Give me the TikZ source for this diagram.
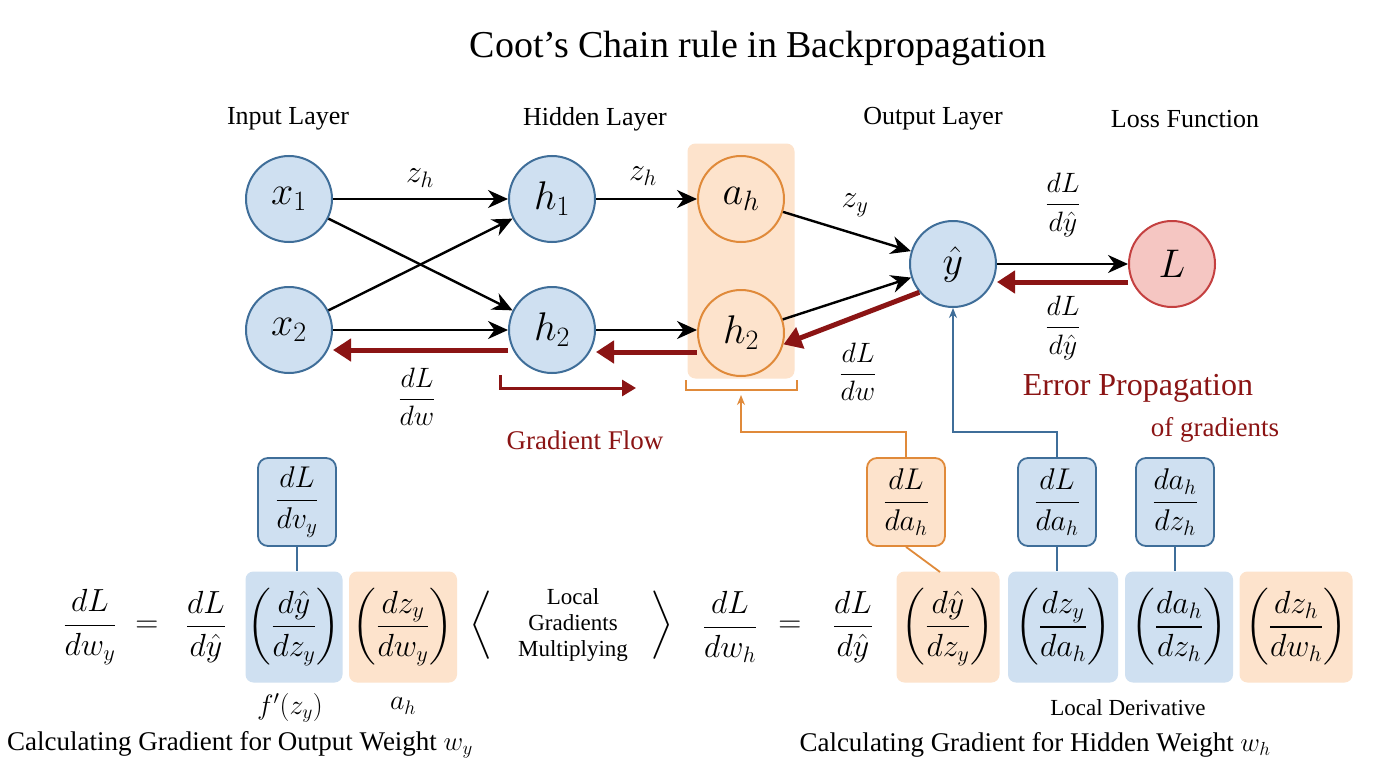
\RequirePackage{fix-cm}
\documentclass[tikz,border=0pt]{standalone}
\usepackage{amsmath,amssymb,bm}
\usepackage{fontspec}
\setmainfont{Liberation Serif}
\usetikzlibrary{arrows.meta,positioning}
\definecolor{bfill}{HTML}{CFE0F1}
\definecolor{bdraw}{HTML}{3F6E99}
\definecolor{ofill}{HTML}{FDE3CC}
\definecolor{odraw}{HTML}{E08A3A}
\definecolor{rfill}{HTML}{F5C6C2}
\definecolor{rdraw}{HTML}{C44040}
\definecolor{dred}{HTML}{8B1414}
\newcommand{\fs}[1]{\fontsize{#1}{#1}\selectfont}
\begin{document}
\begin{tikzpicture}[x=1pt,y=-1pt,
  neu/.style={circle,draw=bdraw,fill=bfill,line width=2pt,minimum size=86pt,inner sep=0pt,font=\fs{40}},
  oneu/.style={neu,draw=odraw,fill=ofill},
  rneu/.style={neu,draw=rdraw,fill=rfill},
  lab/.style={font=\fs{26}},
  fw/.style={line width=2.4pt,-{Stealth[length=20pt,width=18pt]}},
  bw/.style={line width=5pt,dred,-{Triangle[length=18pt,width=22pt]}},
  mlab/.style={font=\fs{32}},
  bbox/.style={rectangle,rounded corners=8pt,fill=bfill,inner sep=0pt,font=\fs{32}},
  obox/.style={bbox,fill=ofill},
  tbox/.style={rectangle,rounded corners=10pt,draw=bdraw,fill=bfill,line width=1.8pt,minimum width=78pt,minimum height=88pt,inner sep=2pt,font=\fs{30}},
  otbox/.style={tbox,draw=odraw,fill=ofill},
  eq/.style={font=\fs{32},inner sep=0pt}]
\useasboundingbox (0,0) rectangle (1376,768);
\fill[white] (0,0) rectangle (1376,768);
\node[font=\fs{38}] (title) at (758,48) {Coot’s Chain rule in Backpropagation};
\node[lab] (l1) at (288,119) {Input Layer};
\node[lab] (l2) at (595,119) {Hidden Layer};
\node[lab] (l3) at (933,119) {Output Layer};
\node[lab] (l4) at (1185,119) {Loss Function};
% orange background
\node[rectangle,rounded corners=8pt,fill=ofill,minimum width=107pt,minimum height=235pt] (obg) at (741,261) {};
\draw[odraw,line width=1.6pt] (686,380)--(686,390)--(797,390)--(797,380);
% nodes
\node[neu] (x1) at (289,199) {$x_1$};
\node[neu] (x2) at (289,330) {$x_2$};
\node[neu] (h1) at (552,199) {$h_1$};
\node[neu] (h2) at (552,330) {$h_2$};
\node[oneu] (ah) at (741,199) {$a_h$};
\node[oneu] (h2o) at (741,333) {$h_2$};
\node[neu] (y) at (953,264) {$\hat y$};
\node[rneu] (L) at (1172,264) {$L$};
% forward
\draw[fw] (x1) -- (h1);
\draw[fw] (x1) -- (h2);
\draw[fw] (x2) -- (h1);
\draw[fw] (x2) -- (h2);
\draw[fw] (h1) -- (ah);
\draw[fw] (h2) -- (h2.east -| h2o.west);
\draw[fw] (ah) -- (y);
\draw[fw] (h2o) -- (y);
\draw[fw] (y) -- (L);
\node[mlab] (lzh1) at (420,178) {$z_h$};
\node[mlab] (lzh2) at (643,176) {$z_h$};
\node[mlab] (lzy) at (855,205) {$z_y$};
\node[mlab,font=\fs{28}] (ldy1) at (1063,205) {$\dfrac{dL}{d\hat y}$};
% backward
\draw[bw] ([yshift=-18pt]L.west) -- ([yshift=-18pt]y.east);
\draw[bw] (y.-140) -- (h2o.-15);
\draw[bw] ([yshift=-19pt]h2o.west) -- ([yshift=-19pt]h2o.west -| h2.east);
\draw[bw] ([yshift=-20pt]h2.west) -- ([yshift=-20pt]x2.east);
\node[mlab,font=\fs{28}] (ldy2) at (1063,328) {$\dfrac{dL}{d\hat y}$};
\node[mlab,font=\fs{28}] (ldw1) at (858,372) {$\dfrac{dL}{dw}$};
\node[mlab,font=\fs{28}] (ldw2) at (417,397) {$\dfrac{dL}{dw}$};
\coordinate (gfa) at (500,375);
\coordinate (gfb) at (636,388);
\draw[dred,line width=3pt,-{Triangle[length=14pt,width=16pt]}] (gfa) |- (gfb);
\node[font=\fs{27},text=dred] (gf) at (585,440) {Gradient Flow};
\node[font=\fs{32},text=dred] (ep) at (1138,388) {Error Propagation};
\node[font=\fs{27},text=dred] (og) at (1215,430) {of gradients};
% bottom-left equation
\node[eq] (e1) at (90,627) {$\displaystyle\frac{dL}{dw_y}$};
\node[eq] (e2) at (147,627) {$=$};
\node[eq] (e3) at (206,627) {$\displaystyle\frac{dL}{d\hat y}$};
\node[bbox,minimum width=97pt,minimum height=111pt] (b1) at (294,627) {$\displaystyle\left(\frac{d\hat y}{dz_y}\right)$};
\node[obox,minimum width=108pt,minimum height=111pt] (b2) at (403,627) {$\displaystyle\left(\frac{dz_y}{dw_y}\right)$};
\node[font=\fs{38}] (la) at (481,625) {$\bm{\Big\langle}$};
\node[font=\fs{23},align=center] (lg) at (573,625) {Local\\[3pt]Gradients\\[3pt]Multiplying};
\node[font=\fs{38}] (ra) at (662,625) {$\bm{\Big\rangle}$};
\node[tbox] (t1) at (297,502) {$\dfrac{dL}{dv_y}$};
\draw[bdraw,line width=1.8pt] (t1) -- (t1 |- b1.north);
\node[font=\fs{28}] (fp) at (290,708) {$f'(z_y)$};
\node[font=\fs{28}] (ahl) at (403,706) {$a_h$};
\node[font=\fs{27}] (c1) at (240,745) {Calculating Gradient for Output Weight $w_y$};
% bottom-right equation
\node[eq] (f1) at (730,627) {$\displaystyle\frac{dL}{dw_h}$};
\node[eq] (f2) at (790,627) {$=$};
\node[eq] (f3) at (853,627) {$\displaystyle\frac{dL}{d\hat y}$};
\node[obox,minimum width=103pt,minimum height=111pt] (g1) at (948,627) {$\displaystyle\left(\frac{d\hat y}{dz_y}\right)$};
\node[bbox,minimum width=110pt,minimum height=111pt] (g2) at (1063,627) {$\displaystyle\left(\frac{dz_y}{da_h}\right)$};
\node[bbox,minimum width=108pt,minimum height=111pt] (g3) at (1179,627) {$\displaystyle\left(\frac{da_h}{dz_h}\right)$};
\node[obox,minimum width=113pt,minimum height=111pt] (g4) at (1296,627) {$\displaystyle\left(\frac{dz_h}{dw_h}\right)$};
\node[otbox] (u1) at (906,502) {$\dfrac{dL}{da_h}$};
\node[tbox] (u2) at (1057,502) {$\dfrac{dL}{da_h}$};
\node[tbox] (u3) at (1175,502) {$\dfrac{da_h}{dz_h}$};
\draw[odraw,line width=1.8pt] (u1.south) -- (940,572);
\draw[bdraw,line width=1.8pt] (u2) -- (u2 |- g2.north);
\draw[bdraw,line width=1.8pt] (u3) -- (u3 |- g3.north);
\coordinate (oc) at (741,432);
\draw[odraw,line width=1.6pt,-{Stealth[length=10pt,width=8pt]}] (u1.north) |- (oc) -- (741,395);
\coordinate (bc) at (953,432);
\draw[bdraw,line width=1.6pt,-{Stealth[length=10pt,width=8pt]}] (u2.north) |- (bc) -- (y.south);
\node[font=\fs{23}] (ld) at (1128,708) {Local Derivative};
\node[font=\fs{27}] (c2) at (1035,745) {Calculating Gradient for Hidden Weight $w_h$};
\end{tikzpicture}
\end{document}
